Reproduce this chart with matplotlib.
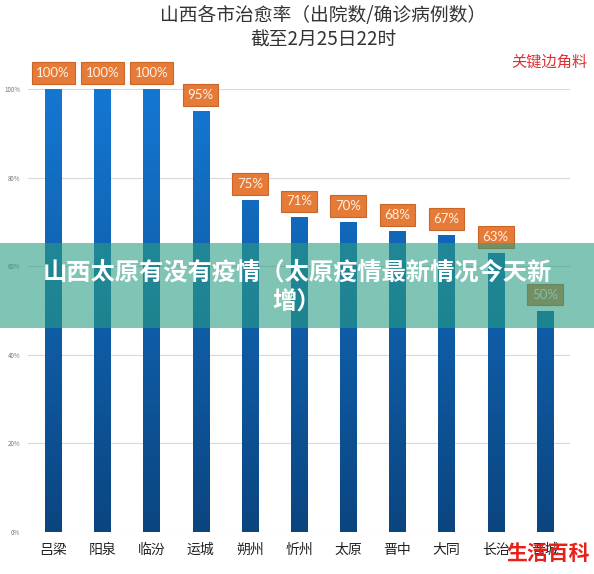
import matplotlib
matplotlib.use("Agg")
import matplotlib.pyplot as plt
import numpy as np
from matplotlib.colors import LinearSegmentedColormap
from matplotlib.patches import Rectangle

plt.rcParams['font.family'] = ['Noto Sans CJK SC', 'DejaVu Sans']

# ---- data ----
cities = ["吕梁", "阳泉", "临汾", "运城", "朔州", "忻州", "太原", "晋中", "大同", "长治", "晋城"]
cure_rate = [100, 100, 100, 95, 75, 71, 70, 68, 67, 63, 50]
ytick_vals = [0, 20, 40, 60, 80, 100]
ytick_labels = ["0%", "20%", "40%", "60%", "80%", "100%"]
title1 = "山西各市治愈率（出院数/确诊病例数）"
title2 = "截至2月25日22时"
banner = "山西太原有没有疫情（太原疫情最新情况今天新\n增）"

W, H = 594, 574
fig = plt.figure(figsize=(W / 100, H / 100), dpi=100)
fig.patch.set_facecolor("white")

ax = fig.add_axes([28.5 / W, 1 - 532 / H, (569.5 - 28.5) / W, (532 - 89) / H])
x = np.arange(len(cities))
bars = ax.bar(x, cure_rate, width=0.33, color="#1170C8", zorder=2)

# vertical gradient on bars
cmap = LinearSegmentedColormap.from_list("g", ["#0B4580", "#0F5FAA", "#1577D2"])
grad = np.linspace(0, 1, 256).reshape(-1, 1)
for b in bars:
    x0, w = b.get_x(), b.get_width()
    im = ax.imshow(grad, cmap=cmap, aspect="auto", origin="lower",
                   extent=[x0, x0 + w, 0, 100], zorder=2.5, vmin=0, vmax=1)
    im.set_clip_path(b)

ax.set_xlim(-0.5, len(cities) - 0.5)
ax.set_ylim(0, 100)
ax.set_yticks(ytick_vals)
ax.set_yticklabels(ytick_labels, fontsize=4.5, color="#777777")
ax.set_xticks(x)
ax.set_xticklabels(cities, fontsize=10, color="#222222")
ax.tick_params(axis="both", length=0)
ax.tick_params(axis="y", pad=6)
ax.tick_params(axis="x", pad=8)
for s in ax.spines.values():
    s.set_visible(False)
ax.yaxis.grid(True, color="#D9D9D9", linewidth=0.8, zorder=0)
ax.set_axisbelow(True)

# value labels in orange boxes
for xi, v in zip(x, cure_rate):
    ax.annotate(f"{v}%", xy=(xi, v), xytext=(0, 11.5), textcoords="offset points",
                ha="center", va="center", fontsize=9.5, family="Lato",
                color="#FDF1E6", zorder=4, annotation_clip=False,
                bbox=dict(boxstyle="square,pad=0.36", fc="#E67B38", ec="#C9662A", lw=0.8))

# titles
fig.text(323 / W, 1 - 16 / H, title1, ha="center", va="center", fontsize=13.5, color="#333333")
fig.text(323 / W, 1 - 40 / H, title2, ha="center", va="center", fontsize=13.5, color="#333333")

# overlay banner
fig.patches.append(Rectangle((0, 1 - 328 / H), 1, (328 - 243) / H, transform=fig.transFigure,
                             facecolor="#2A9D82", alpha=0.6, zorder=5, edgecolor="none"))
fig.text(0.5, 1 - 288 / H, banner, ha="center", va="center", fontsize=17.5, fontweight="bold",
         color="white", zorder=6, linespacing=1.32)

# watermarks
fig.text(549 / W, 1 - 62 / H, "关键边角料", ha="center", va="center", fontsize=11,
         color="#E03030", style="italic", zorder=6)
fig.text(548 / W, 1 - 553 / H, "生活百科", ha="center", va="center", fontsize=15,
         fontweight="bold", color="#E8201A", zorder=6)

fig.savefig("out.png", dpi=100, facecolor="white")
